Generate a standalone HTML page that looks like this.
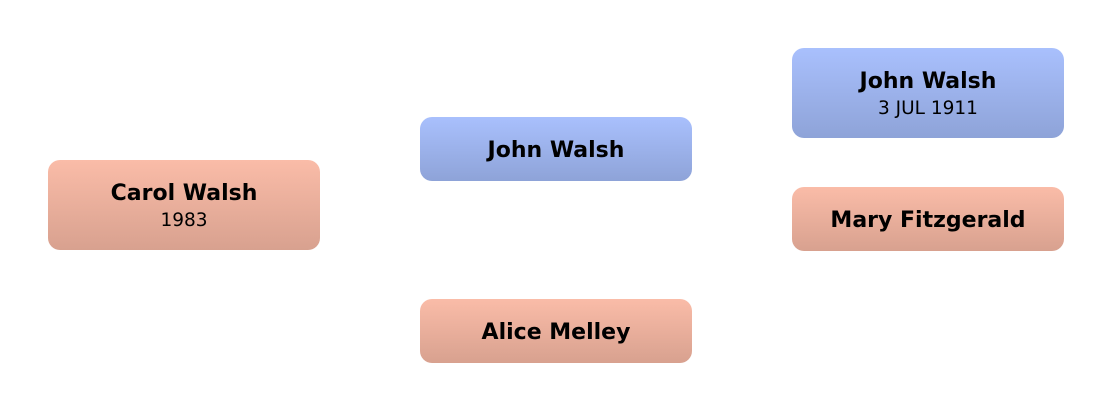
<!DOCTYPE html>
<html><head><style>
body{margin:0;width:1112px;height:411px;background:#fff;position:relative;overflow:hidden;font-family:"DejaVu Sans","Liberation Sans",sans-serif;}
.b{position:absolute;width:272px;border-radius:12px;display:flex;flex-direction:column;justify-content:center;align-items:center;color:#000;box-sizing:border-box;padding-top:4px;}
.p{background:linear-gradient(#fabca8,#d8a18f);}
.m{background:linear-gradient(#a9c0fd,#8ea3d8);}
.n{font-weight:bold;font-size:22px;line-height:28px;}
.s{font-size:18.5px;line-height:26px;}
</style></head><body>
<div class="b p" style="left:48px;top:160px;height:90px"><div class="n">Carol Walsh</div><div class="s">1983</div></div>
<div class="b m" style="left:420px;top:117px;height:64px"><div class="n">John Walsh</div></div>
<div class="b p" style="left:420px;top:299px;height:64px"><div class="n">Alice Melley</div></div>
<div class="b m" style="left:792px;top:48px;height:90px"><div class="n">John Walsh</div><div class="s">3 JUL 1911</div></div>
<div class="b p" style="left:792px;top:187px;height:64px"><div class="n">Mary Fitzgerald</div></div>
</body></html>
